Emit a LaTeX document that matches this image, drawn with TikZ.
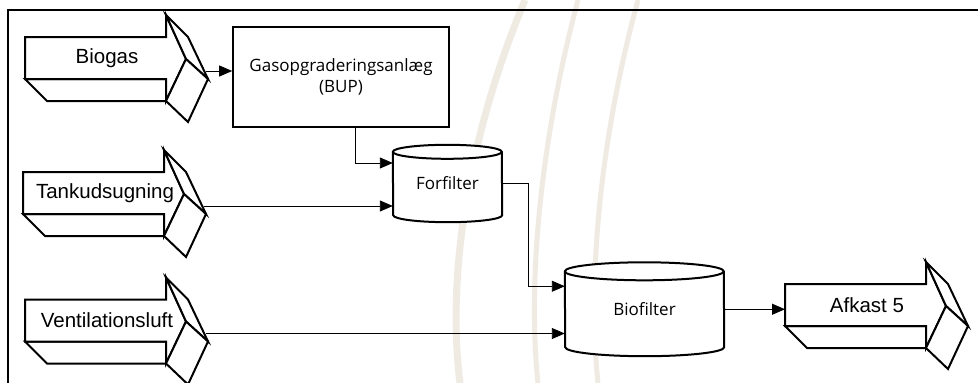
\documentclass[tikz,border=0pt]{standalone}
\usepackage{fontspec}
\usepackage{tikz}
\usetikzlibrary{arrows.meta,calc,backgrounds}
\newfontfamily\arrowfont{Liberation Sans}
\newfontfamily\unitfont{Open Sans}
\definecolor{wmk}{RGB}{239,234,226}

\tikzset{
  blockline/.style={line width=2pt,fill=white},
  flowarrow/.pic={
    \draw[blockline] (0,21) -- (22,43) -- (141,43) -- (141,21) -- cycle;
    \draw[blockline] (0,-21) -- (141,-21) -- (141,-43) -- (161,1) -- (141,43) -- (141,21) -- (0,21) -- cycle;
    \draw[blockline] (141,-43) -- (163,-21) -- (183,21) -- (161,1) -- cycle;
    \draw[blockline] (161,1) -- (183,21) -- (163,64) -- (141,43) -- cycle;
    \node[font=\arrowfont\fontsize{20.5}{24}\selectfont] (-txt) at (82,0) {#1};
    \coordinate (-tail) at (0,0);
    \coordinate (-tip) at (181,13);
  },
  unit/.style={draw,line width=1.6pt,fill=white,minimum width=216pt,minimum height=100pt,
    align=center,font=\unitfont\fontsize{17}{21}\selectfont},
  filterbox/.style={inner sep=0pt,font=\unitfont\fontsize{17}{21}\selectfont},
  flow/.style={->,line width=0.9pt}
}

\begin{document}
\begin{tikzpicture}[x=1pt,y=-1pt,>={Triangle[length=13pt,width=11pt]}]
  \useasboundingbox (0,0) rectangle (978,383);
  \draw[line width=2pt] (8,383) -- (8,10) -- (978,10);

  \pic (biogas) at (25,58) {flowarrow=Biogas};
  \pic (tanksug) at (23,193) {flowarrow=Tankudsugning};
  \pic (vent) at (25,320.5) {flowarrow=Ventilationsluft};
  \pic (afkast) at (785,305) {flowarrow={Afkast 5}};

  \node[unit] (bup) at (341,77) {Gasopgraderingsanlæg\\(BUP)};
  \node[filterbox,minimum width=109pt,minimum height=63pt] (forf) at (447.5,183.5) {Forfilter};
  \node[filterbox,minimum width=159pt,minimum height=75.5pt] (biof) at (644.5,309.25) {Biofilter};

  \begin{scope}[on background layer]
    % watermark arcs
    \draw[wmk,line width=7pt] (525,0) .. controls (462,150) and (448,290) .. (460,383);
    \draw[wmk,line width=5pt] (578,0) .. controls (538,150) and (528,290) .. (538,383);
    \draw[wmk,line width=5pt] (638,0) .. controls (597,150) and (588,290) .. (598,383);
    % tanks
    \foreach \t/\w/\r in {forf/54.5/7,biof/79.5/9} {
      \draw[blockline] (\t.north west) arc[start angle=180,end angle=360,x radius=\w,y radius=\r]
        -- (\t.south east) arc[start angle=0,end angle=180,x radius=\w,y radius=\r] -- cycle;
      \draw[line width=2pt] (\t.north west) arc[start angle=180,end angle=0,x radius=\w,y radius=\r];
    }
  \end{scope}

  \draw[flow] (biogas-tip) -- (biogas-tip -| bup.west);
  \draw[flow] ([xshift=14pt]bup.south) |- ([yshift=20.5pt]forf.west);
  \draw[flow] (tanksug-tip) -- (tanksug-tip -| forf.west);
  \draw[flow] (forf.east) -- ++(26,0) |- ([yshift=23pt]biof.west);
  \draw[flow] (vent-tip) -- (vent-tip -| biof.west);
  \draw[flow] (biof.east) -- (biof.east -| afkast-tail);
\end{tikzpicture}
\end{document}
